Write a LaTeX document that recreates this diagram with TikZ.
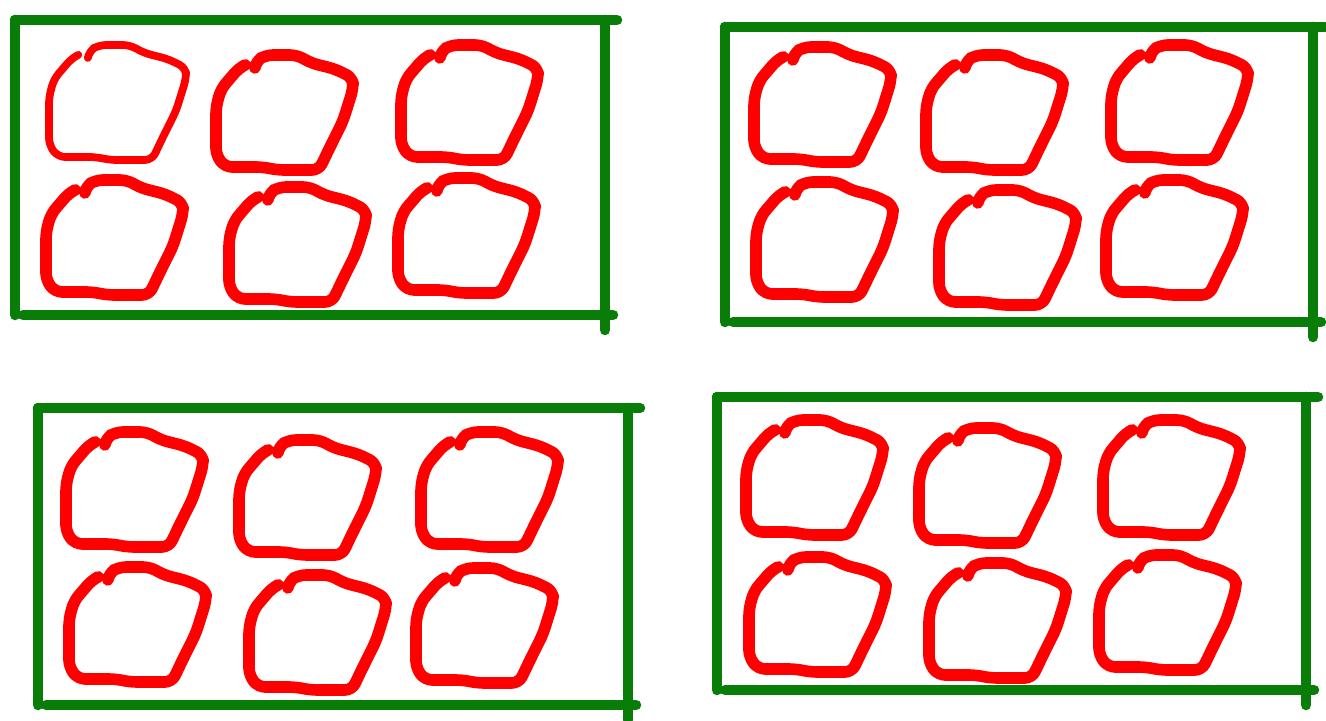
\documentclass[tikz,border=0pt]{standalone}
\definecolor{boxgreen}{RGB}{8,125,8}
\definecolor{blobred}{RGB}{255,0,0}
\usepackage{tikz}

\tikzset{
  boxline/.style={line width=3pt, boxgreen, line cap=round},
  blobline/.style={line width=3.3pt, blobred, line cap=round, line join=round, rounded corners=2pt},
  blobextra/.style={},
  blob/.pic={
    \draw[blobline, blobextra] (30,10) -- (24,13) -- (6,34) -- (1,52) -- (1,100) -- (10,112)
      -- (48,112) -- (62,115) -- (104,115) -- (115,92) -- (128,66) -- (138,34)
      -- (138,23) -- (120,14) -- (96,8) -- (82,0) -- (51,0) -- (41,6) -- (40,12);
  }
}

\begin{document}
\begin{tikzpicture}[x=0.01cm, y=-0.01cm]
  \useasboundingbox (0,0) rectangle (1326,721);
  % boxes
  \foreach \xa/\ya/\xb/\yb in {15/20/605/315, 725/27/1313/322, 38/408/628/705, 717/397/1306/690}{
    \draw[boxline] (\xa,\ya) -- (\xb+12,\ya);
    \draw[boxline] (\xa,\ya) -- (\xa,\yb);
    \draw[boxline] (\xa+8,\yb) -- (\xb+8,\yb);
    \draw[boxline] (\xb,\ya) -- (\xb,\yb+15);
  }
  % first blob, thinner stroke
  \pic[blobextra/.style={line width=2.2pt}] at (48,45) {blob};
  % other blobs
  \foreach \bx/\by in {215/55, 400/45, 45/180, 228/187, 397/178,
                       753/47, 925/55, 1110/45, 755/182, 938/190, 1105/180,
                       65/432, 238/440, 420/432, 68/567, 248/575, 415/568,
                       745/420, 918/428, 1102/420, 748/557, 928/563, 1098/555}{
    \pic at (\bx,\by) {blob};
  }
\end{tikzpicture}
\end{document}
